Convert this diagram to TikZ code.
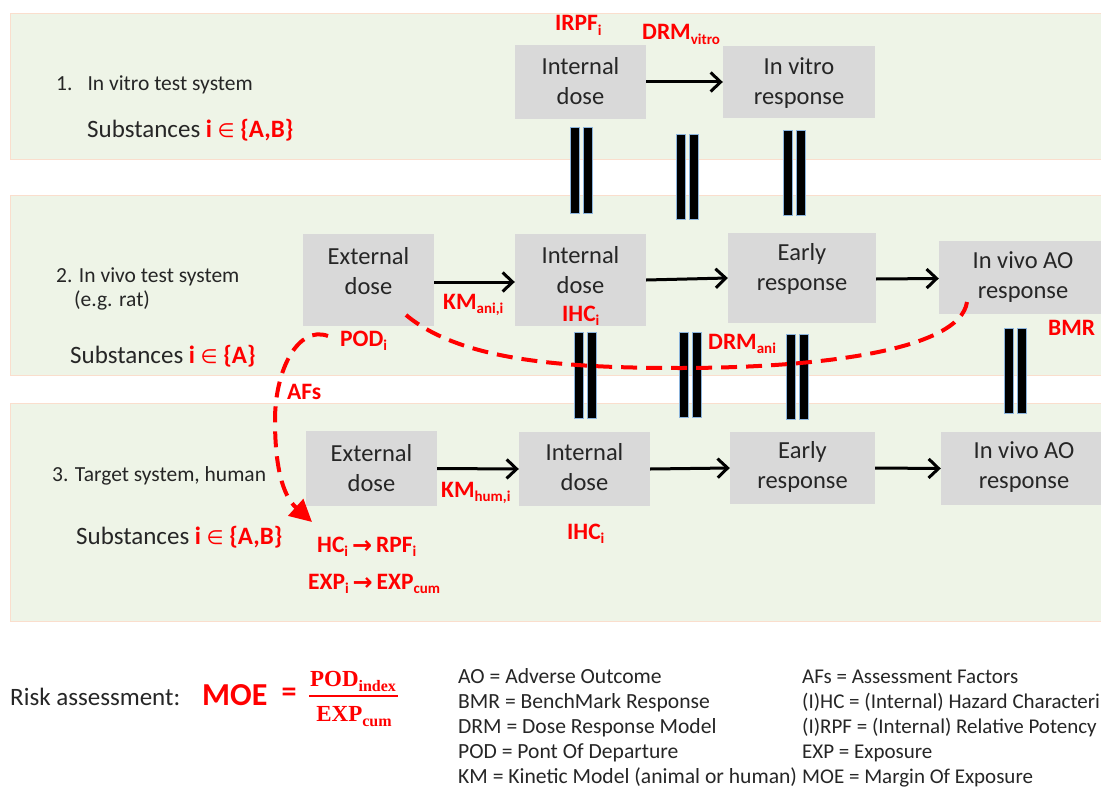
\documentclass[tikz,border=0pt]{standalone}
\usepackage{fontspec}
\setmainfont{Carlito}
\newfontfamily\dejavu{DejaVu Sans}
\newfontfamily\lserif{Liberation Serif}
\usetikzlibrary{arrows.meta}
\definecolor{bandfill}{RGB}{238,244,231}
\definecolor{bandline}{RGB}{250,222,205}
\definecolor{boxgray}{RGB}{217,217,217}
\definecolor{barblue}{RGB}{140,180,220}
\definecolor{myred}{RGB}{255,0,0}
\newcommand\fs[2]{\fontsize{#1}{#2}\selectfont}
\newcommand\sbs[1]{\raisebox{-4.5pt}{\fs{15}{15}#1}}
\newcommand\sbsf[1]{\raisebox{-5pt}{\fs{16}{16}#1}}
\newcommand\elm{{\mdseries\dejavu\fs{19.5}{19.5}∈}}
\newcommand\rarr{{\dejavu\bfseries\fs{24}{24}\raisebox{-1pt}{→}}}
\newcommand\eqbars[3]{%
  \draw[eqbar] (#1,#2) rectangle (#1+9,#3);
  \draw[eqbar] (#1+13,#2) rectangle (#1+22,#3);}
\begin{document}
\begin{tikzpicture}[x=1pt,y=-1pt,
  band/.style={fill=bandfill, draw=bandline, line width=1pt},
  box/.style={fill=boxgray, draw=none, inner sep=0pt},
  btxt/.style={font=\fs{24.5}{30}, align=center, inner sep=0pt, text=black!85},
  arr/.style={line width=3pt, -{Straight Barb[length=10pt,width=19pt]}},
  eqbar/.style={fill=black, draw=barblue, line width=1pt},
  reddash/.style={draw=myred, line width=4pt, dash pattern=on 16pt off 9pt},
  redlab/.style={text=myred, font=\fs{23.5}{27}\bfseries, anchor=base west, inner sep=0pt},
  ltxt/.style={font=\fs{21.5}{25}, anchor=base west, inner sep=0pt, text=black!85},
  stxt/.style={font=\fs{25}{28}, anchor=base west, inner sep=0pt, text=black!85},
  legtxt/.style={font=\fs{21.6}{25}, anchor=base west, inner sep=0pt, text=black!85},
  legtxtb/.style={font=\fs{21}{25}, anchor=base west, inner sep=0pt, text=black!85}]
\useasboundingbox (0,0) rectangle (1101,792);
\clip (0,0) rectangle (1101,792);
\fill[white] (0,0) rectangle (1101,792);

% bands
\draw[band] (10,14) rectangle (1115,159);
\draw[band] (10,195) rectangle (1115,375);
\draw[band] (10,403) rectangle (1115,621);

% left texts
\node[ltxt] (t1) at (56,91) {1.\hspace{15pt}In vitro test system};
\node[stxt] (s1) at (87,137) {Substances \textcolor{myred}{\textbf{i} \elm{} \textbf{\{A,B\}}}};
\node[ltxt] (t2) at (56,282) {2. In vivo test system};
\node[ltxt] (t2b) at (74,306) {(e.g. rat)};
\node[stxt] (s2) at (70,363) {Substances \textcolor{myred}{\textbf{i} \elm{} \textbf{\{A\}}}};
\node[ltxt] (t3) at (52,481) {3. Target system, human};
\node[stxt] (s3) at (76,544) {Substances \textcolor{myred}{\textbf{i} \elm{} \textbf{\{A,B\}}}};

% boxes row 1
\node[box, minimum width=131pt, minimum height=74pt] (id1) at (580.5,82) {};
\node[btxt] (id1t) at (580.5,81) {Internal\\dose};
\node[box, minimum width=152pt, minimum height=72pt] (vr1) at (799,82) {};
\node[btxt] (vr1t) at (799,83) {In vitro\\response};
% boxes row 2
\node[box, minimum width=131pt, minimum height=92pt] (ed2) at (368.5,280) {};
\node[btxt] (ed2t) at (368.5,271) {External\\dose};
\node[box, minimum width=131pt, minimum height=92pt] (id2) at (580.5,280) {};
\node[btxt] (id2t) at (580.5,270) {Internal\\dose};
\node[box, minimum width=148pt, minimum height=90pt] (er2) at (802,278) {};
\node[btxt] (er2t) at (802,269) {Early\\response};
\node[box, minimum width=168pt, minimum height=73pt] (ao2) at (1023,277.5) {};
\node[btxt] (ao2t) at (1023,277) {In vivo AO\\response};
% boxes row 3
\node[box, minimum width=131pt, minimum height=75pt] (ed3) at (371.5,468.5) {};
\node[btxt] (ed3t) at (371.5,468.5) {External\\dose};
\node[box, minimum width=131pt, minimum height=74pt] (id3) at (584.5,469) {};
\node[btxt] (id3t) at (584.5,467.5) {Internal\\dose};
\node[box, minimum width=145pt, minimum height=72pt] (er3) at (802.5,468) {};
\node[btxt] (er3t) at (802.5,467) {Early\\response};
\node[box, minimum width=166pt, minimum height=73pt] (ao3) at (1024,468.5) {};
\node[btxt] (ao3t) at (1024,467) {In vivo AO\\response};

% arrows
\draw[arr] (id1.east) -- (vr1.west);
\draw[arr] ([yshift=-2pt]ed2.east) -- ([yshift=-2pt]id2.west);
\draw[arr] (id2.east) -- (er2.west);
\draw[arr] ([yshift=-1pt]er2.east) -- ([yshift=-1pt]ao2.west);
\draw[arr] (ed3.east) -- (id3.west);
\draw[arr] (id3.east) -- (er3.west);
\draw[arr] (er3.east) -- (ao3.west);

% equivalence bars
\eqbars{570}{127}{213}
\eqbars{676}{134}{219}
\eqbars{783}{130}{215}
\eqbars{574}{332}{418}
\eqbars{679}{332}{417}
\eqbars{786}{334}{419}
\eqbars{1004}{328}{413}

% red labels
\node[redlab] (irpf) at (555,31) {IRPF\sbs{i}};
\node[redlab] (drmv) at (642,40) {DRM\sbs{vitro}};
\node[redlab] (kmani) at (443,309) {KM\sbs{ani,i}};
\node[redlab] (ihc2) at (562,321) {IHC\sbs{i}};
\node[redlab] (pod) at (340,346) {POD\sbs{i}};
\node[redlab] (drma) at (708,349) {DRM\sbs{ani}};
\node[redlab] (bmr) at (1048,335) {BMR};
\node[redlab] (afs) at (287,399) {AFs};
\node[redlab] (kmhum) at (441,497) {KM\sbs{hum,i}};
\node[redlab] (ihc3) at (567,539) {IHC\sbs{i}};
\node[redlab] (hc) at (317,552) {HC\sbs{i}\,\rarr\,RPF\sbs{i}};
\node[redlab] (exp) at (308,589) {EXP\sbs{i}\,\rarr\,EXP\sbs{cum}};

% dashed red curves
\coordinate (c1s) at (406,315);
\coordinate (c1e) at (967,302);
\draw[reddash] (c1s) .. controls (460,360) and (560,368) .. (680,368)
  .. controls (820,368) and (960,350) .. (c1e);
\coordinate (c2s) at (328,336);
\coordinate (c2e) at (312,522);
\draw[reddash, -{Triangle[length=22pt,width=22pt]}] (c2s) .. controls (298,325) and (275,370) .. (275,420)
  .. controls (275,465) and (282,495) .. (c2e);

% risk assessment
\node[font=\fs{25}{30}, anchor=base west, inner sep=0pt, text=black!85] (risk) at (10,705) {Risk assessment:};
\node[font=\fs{32}{36}\bfseries, text=myred, anchor=base west, inner sep=0pt] (moe) at (202,705) {MOE};
\node[font=\fs{30}{36}\bfseries, text=myred, inner sep=0pt] (eq) at (289,695) {=};
\node[font=\fs{23}{26}\lserif\bfseries, text=myred, anchor=base, inner sep=0pt] (podi) at (353,686) {POD\sbsf{index}};
\node[font=\fs{23}{26}\lserif\bfseries, text=myred, anchor=base, inner sep=0pt] (expc) at (354,721) {EXP\sbsf{cum}};
\draw[myred, line width=2.2pt] (309,696) -- (398,696);

% legend
\node[legtxt] (l1) at (458,683) {AO = Adverse Outcome};
\node[legtxt] (l2) at (458,708) {BMR = BenchMark Response};
\node[legtxt] (l3) at (458,733) {DRM = Dose Response Model};
\node[legtxt] (l4) at (458,758) {POD = Pont Of Departure};
\node[legtxt] (l5) at (458,783) {KM = Kinetic Model (animal or human)};
\node[legtxtb] (r1) at (802,683) {AFs = Assessment Factors};
\node[legtxtb] (r2) at (802,708) {(I)HC = (Internal) Hazard Characteri};
\node[legtxtb] (r3) at (802,733) {(I)RPF = (Internal) Relative Potency};
\node[legtxtb] (r4) at (802,758) {EXP = Exposure};
\node[legtxtb] (r5) at (802,783) {MOE = Margin Of Exposure};
\end{tikzpicture}
\end{document}
